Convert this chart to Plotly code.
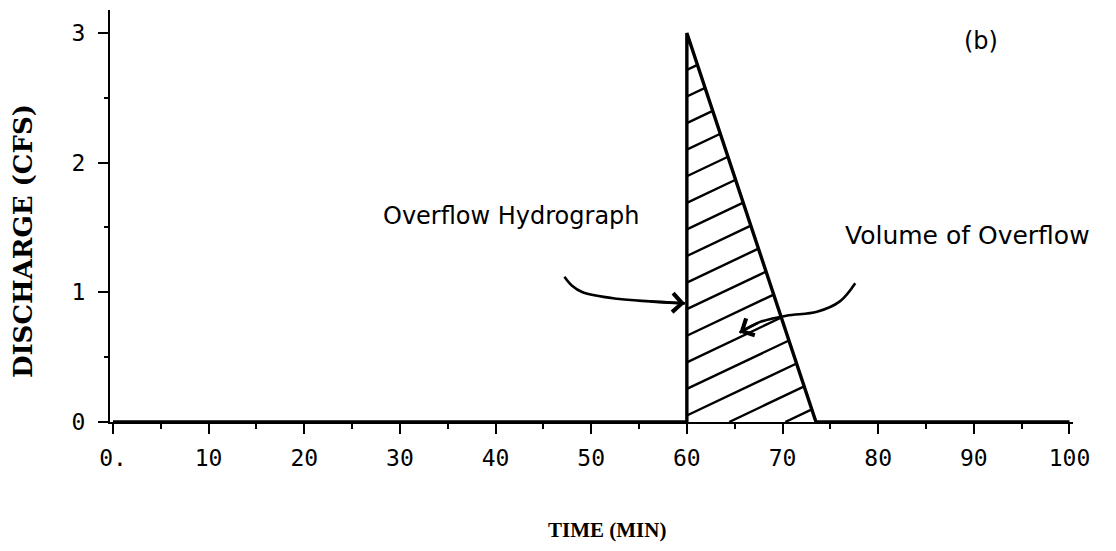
import plotly.graph_objects as go

# ---- data ----
time_min = [0, 60, 60, 73.5, 100]
discharge_cfs = [0, 0, 3.0, 0, 0]

# hatch lines: intercept at t=60 and slope (cfs/min)
hatch_intercepts = [-0.36, -0.155, 0.05, 0.255, 0.46, 0.665, 0.87, 1.075, 1.28,
                    1.485, 1.69, 1.895, 2.10, 2.305, 2.51, 2.715]
hatch_slope = 0.035

# hand-drawn arrow curves (data coordinates)
arrow1_t = [47.2, 48.0, 49.1, 52.7, 56.1, 59.8]
arrow1_q = [1.12, 1.05, 1.00, 0.95, 0.93, 0.915]
arrow2_t = [77.6, 76.0, 73.6, 70.4, 67.6, 65.5]
arrow2_q = [1.07, 0.93, 0.85, 0.82, 0.77, 0.69]

x_ticks = [0, 10, 20, 30, 40, 50, 60, 70, 80, 90, 100]
x_ticklabels = ["0.", "10", "20", "30", "40", "50", "60", "70", "80", "90", "100"]
y_ticks = [0, 1, 2, 3]

fig = go.Figure()

# hatching computed by clipping each line to the triangle
t0, tp, te = time_min[2], discharge_cfs[2], time_min[3]
fall = tp / (te - t0)
hx, hy = [], []
for c in hatch_intercepts:
    xs = max(t0, t0 - c / hatch_slope)
    xe = (fall * te - c + hatch_slope * t0) / (hatch_slope + fall)
    if xe <= xs:
        continue
    hx += [xs, xe, None]
    hy += [c + hatch_slope * (xs - t0), c + hatch_slope * (xe - t0), None]
fig.add_trace(go.Scatter(x=hx, y=hy, mode="lines",
                         line=dict(color="black", width=2.4), hoverinfo="skip"))

fig.add_trace(go.Scatter(x=time_min, y=discharge_cfs, mode="lines",
                         line=dict(color="black", width=3.4), cliponaxis=False))

for tt, qq in [(arrow1_t, arrow1_q), (arrow2_t, arrow2_q)]:
    fig.add_trace(go.Scatter(x=tt, y=qq, mode="lines", line_shape="spline",
                             line=dict(color="black", width=2.6)))
    fig.add_annotation(x=tt[-1], y=qq[-1], ax=tt[-2], ay=qq[-2],
                       xref="x", yref="y", axref="x", ayref="y",
                       showarrow=True, arrowhead=4, arrowsize=1.4,
                       arrowwidth=2.6, arrowcolor="black", text="")

label_font = dict(family="DejaVu Sans", size=24, color="black")
fig.add_annotation(x=41.7, y=1.59, text="Overflow Hydrograph", showarrow=False,
                   font=label_font)
fig.add_annotation(x=89.3, y=1.44, text="Volume of Overflow", showarrow=False,
                   font=dict(family="DejaVu Sans", size=25, color="black"))
fig.add_annotation(x=90.8, y=2.94, text="(b)", showarrow=False, font=label_font)

fig.add_annotation(xref="paper", yref="paper", x=-0.091, y=0.44,
                   xanchor="center", yanchor="middle",
                   text="<b>DISCHARGE (CFS)</b>", textangle=-90, showarrow=False,
                   font=dict(family="DejaVu Serif", size=26, color="black"))
fig.add_annotation(xref="x", yref="paper", x=51.6, y=-0.262,
                   xanchor="center", yanchor="middle",
                   text="<b>TIME (MIN)</b>", showarrow=False,
                   font=dict(family="Liberation Serif", size=21, color="black"))

fig.update_layout(
    width=1116, height=551,
    margin=dict(l=110, r=43, t=10, b=129),
    plot_bgcolor="white", paper_bgcolor="white",
    showlegend=False,
)
fig.update_xaxes(range=[-0.31, 100.37], showgrid=False, zeroline=False,
                 showline=True, linecolor="black", linewidth=2,
                 tickmode="array", tickvals=x_ticks, ticktext=x_ticklabels,
                 ticks="outside", ticklen=10, tickwidth=2, tickcolor="black",
                 minor=dict(dtick=5, tick0=0, ticks="outside", ticklen=5,
                            tickwidth=2, tickcolor="black"),
                 tickfont=dict(family="DejaVu Sans Mono", size=23, color="black"),
                 ticklabelstandoff=4)
fig.update_yaxes(range=[0, 3.177], showgrid=False, zeroline=False,
                 showline=True, linecolor="black", linewidth=2,
                 tickmode="array", tickvals=y_ticks,
                 ticks="outside", ticklen=10, tickwidth=2, tickcolor="black",
                 minor=dict(dtick=0.5, tick0=0, ticks="outside", ticklen=4,
                            tickwidth=2, tickcolor="black"),
                 tickfont=dict(family="DejaVu Sans Mono", size=23, color="black"),
                 ticklabelstandoff=8)

fig.write_html("out.html")
